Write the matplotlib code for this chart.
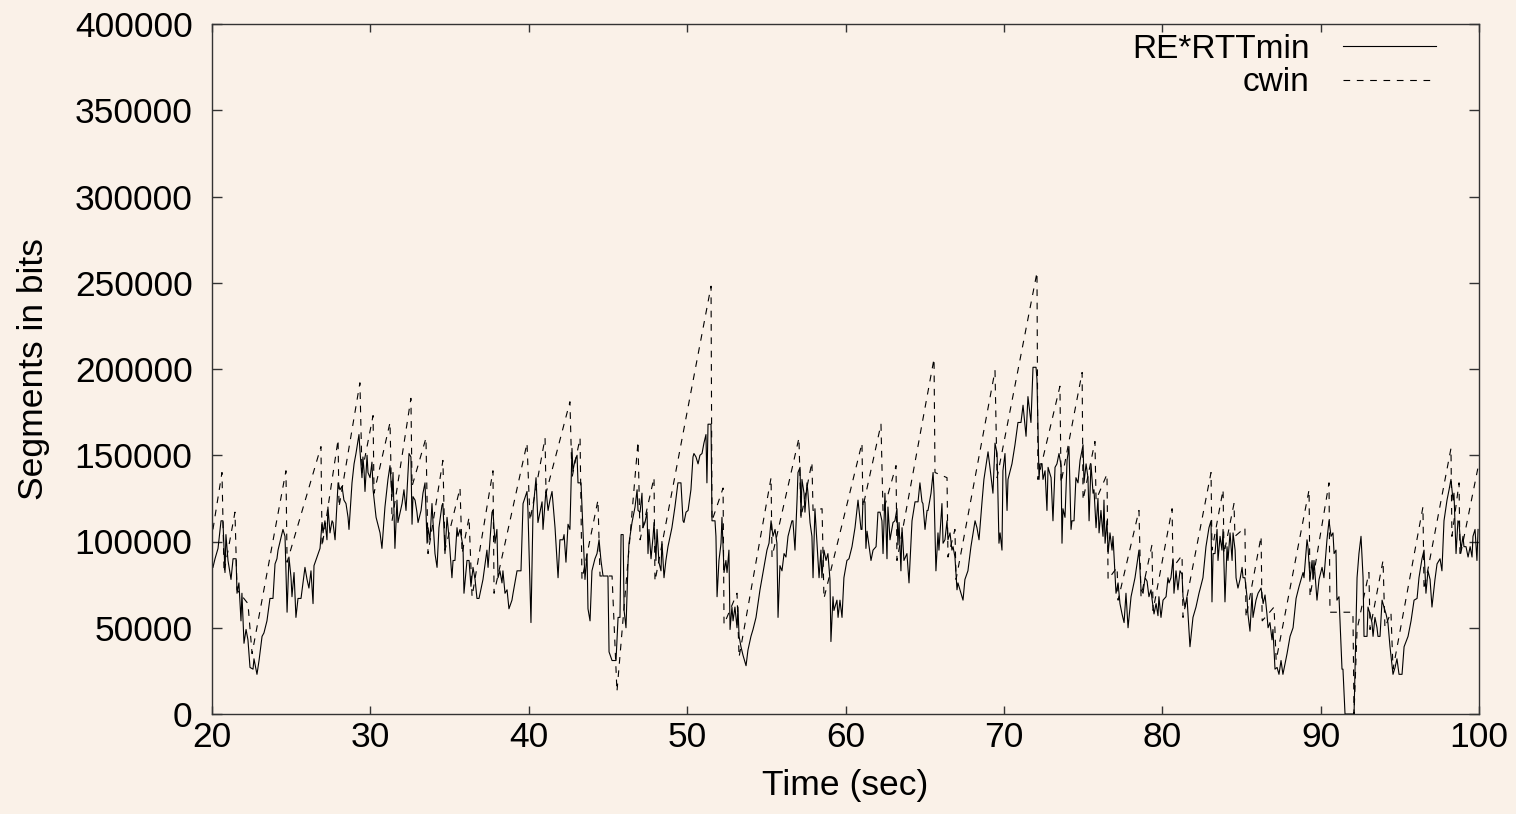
import numpy as np
import matplotlib
matplotlib.use("Agg")
import matplotlib.pyplot as plt

plt.rcParams['font.family'] = ['Liberation Sans', 'DejaVu Sans']

# RE*RTTmin (time in s, value in kbits)
re_t = [20.06,20.19,20.38,20.57,20.69,20.82,20.88,21.01,21.20,21.33,21.52,21.58,21.70,21.83,21.89,22.02,22.15,22.27,22.40,22.59,
        22.65,22.84,22.97,23.16,23.28,23.47,23.66,23.85,23.98,24.10,24.17,24.48,24.61,24.74,24.86,24.99,25.05,25.18,25.30,25.43,
        25.62,25.87,26.00,26.12,26.25,26.38,26.44,26.63,26.82,26.95,27.01,27.13,27.26,27.32,27.45,27.58,27.64,27.77,27.96,28.08,
        28.21,28.33,28.46,28.59,28.65,28.84,28.97,29.09,29.28,29.34,29.47,29.53,29.60,29.66,29.79,29.85,29.98,30.10,30.17,30.36,
        30.61,30.73,30.92,31.11,31.24,31.37,31.43,31.55,31.68,31.74,32.00,32.12,32.25,32.44,32.56,32.63,32.69,32.82,32.94,33.01,
        33.20,33.32,33.45,33.58,33.64,33.76,33.89,33.95,34.08,34.21,34.33,34.52,34.58,34.71,34.84,34.96,35.15,35.22,35.34,35.47,
        35.53,35.66,35.85,35.91,36.10,36.23,36.35,36.48,36.61,36.73,36.86,37.11,37.36,37.43,37.68,37.74,37.87,37.99,38.06,38.18,
        38.31,38.37,38.50,38.63,38.75,38.94,39.01,39.26,39.51,39.64,39.89,39.95,40.14,40.27,40.46,40.58,40.71,40.84,40.90,41.09,
        41.22,41.34,41.47,41.66,41.85,41.97,42.16,42.23,42.35,42.48,42.60,42.73,42.79,42.92,43.05,43.11,43.30,43.43,43.55,43.68,
        43.74,43.87,43.99,44.18,44.31,44.44,44.56,44.69,45.00,45.07,45.26,45.51,45.64,45.76,45.83,45.96,46.02,46.14,46.27,46.33,
        46.52,46.71,46.84,46.90,47.03,47.15,47.21,47.34,47.47,47.53,47.59,47.72,47.85,47.91,48.03,48.10,48.22,48.35,48.41,48.54,
        48.66,48.79,49.04,49.23,49.42,49.61,49.74,49.80,49.93,50.06,50.24,50.37,50.43,50.56,50.69,50.81,50.94,51.06,51.19,51.25,
        51.32,51.51,51.57,51.76,51.82,51.89,52.01,52.14,52.20,52.33,52.45,52.52,52.64,52.71,52.83,52.90,53.02,53.15,53.21,53.28,
        53.40,53.53,53.72,53.84,54.03,54.16,54.35,54.60,54.79,55.04,55.17,55.30,55.42,55.55,55.67,55.74,55.86,55.99,56.12,56.24,
        56.37,56.62,56.68,56.81,56.94,57.00,57.13,57.19,57.25,57.38,57.44,57.57,57.63,57.76,57.88,57.95,58.07,58.20,58.33,58.45,
        58.51,58.64,58.77,58.89,59.02,59.08,59.21,59.27,59.46,59.53,59.65,59.78,59.90,60.09,60.22,60.41,60.60,60.79,60.98,61.04,
        61.10,61.23,61.29,61.36,61.61,61.74,61.93,62.05,62.18,62.30,62.37,62.49,62.62,62.68,62.81,63.00,63.12,63.25,63.31,63.38,
        63.50,63.57,63.69,63.88,64.01,64.20,64.39,64.58,64.70,64.83,64.89,65.02,65.15,65.21,65.40,65.53,65.59,65.71,65.84,65.90,
        66.09,66.16,66.28,66.41,66.47,66.60,66.72,66.79,66.91,67.04,67.10,67.23,67.42,67.54,67.73,67.92,68.18,68.30,68.43,68.62,
        68.74,69.00,69.12,69.31,69.44,69.57,69.69,69.76,69.88,69.94,70.07,70.20,70.26,70.51,70.70,70.89,71.08,71.21,71.40,71.52,
        71.71,71.84,72.03,72.09,72.22,72.28,72.41,72.47,72.60,72.72,72.79,72.98,73.10,73.23,73.35,73.48,73.61,73.67,73.73,73.86,
        73.99,74.11,74.24,74.30,74.43,74.55,74.68,74.81,75.00,75.06,75.19,75.31,75.38,75.50,75.63,75.69,75.82,75.94,76.01,76.13,
        76.26,76.32,76.39,76.51,76.58,76.70,76.83,76.89,77.08,77.21,77.33,77.46,77.59,77.71,77.84,78.03,78.28,78.53,78.66,78.79,
        78.91,79.04,79.16,79.29,79.35,79.48,79.61,79.73,79.79,79.92,80.05,80.24,80.36,80.43,80.55,80.68,80.74,80.87,80.99,81.12,
        81.25,81.31,81.44,81.56,81.75,81.94,82.13,82.32,82.57,82.76,82.95,83.08,83.14,83.21,83.33,83.46,83.52,83.65,83.77,83.84,
        83.96,84.09,84.15,84.28,84.41,84.47,84.60,84.66,84.78,84.91,85.04,85.10,85.22,85.35,85.41,85.54,85.67,85.73,85.92,86.05,
        86.24,86.37,86.49,86.61,86.68,86.80,86.93,86.99,87.12,87.25,87.37,87.50,87.62,87.88,88.07,88.26,88.45,88.64,88.89,88.95,
        89.14,89.20,89.33,89.46,89.52,89.58,89.77,89.90,90.09,90.21,90.40,90.53,90.66,90.78,90.85,90.97,91.03,91.16,91.35,91.41,
        91.54,92.11,92.30,92.42,92.55,92.68,92.74,92.93,92.99,93.12,93.24,93.31,93.43,93.56,93.62,93.75,93.88,94.00,94.13,94.25,
        94.38,94.57,94.70,94.82,94.95,95.14,95.27,95.52,95.71,95.90,96.09,96.21,96.40,96.53,96.65,96.78,96.91,97.03,97.22,97.35,
        97.54,97.66,97.79,97.98,98.11,98.23,98.36,98.42,98.55,98.67,98.74,98.86,98.99,99.05,99.18,99.31,99.44,99.56,99.62,99.75,
        99.87,99.94]
re_k = [85,90,96,112,112,82,104,89,78,90,90,70,76,54,70,41,49,43,27,26,
        32,23,31,45,47,54,67,67,87,90,95,107,103,59,91,79,68,82,56,67,
        67,85,78,73,83,64,86,91,96,111,105,112,101,120,105,112,111,101,134,130,
        132,124,122,114,107,134,145,151,162,153,137,149,141,129,150,140,137,146,130,114,
        105,96,120,136,144,126,140,96,124,111,122,130,118,151,149,110,126,124,117,111,
        118,128,134,99,108,101,122,112,93,85,108,121,122,93,114,103,79,89,89,108,
        103,107,97,70,89,89,74,85,78,67,67,78,95,85,117,118,99,107,79,83,
        76,83,70,72,61,66,70,83,83,122,129,118,53,118,137,111,117,123,107,130,
        118,124,129,108,79,101,101,104,88,110,107,154,141,147,150,134,134,105,78,93,
        61,54,83,90,93,101,89,80,80,36,31,31,56,56,104,104,60,50,88,99,
        111,120,130,118,117,128,108,111,117,93,107,90,103,111,89,107,88,83,100,79,
        89,97,108,120,134,134,112,111,117,118,130,149,151,149,145,150,151,157,162,134,
        168,168,112,112,103,68,89,99,114,82,89,82,95,49,62,54,62,50,62,45,
        39,34,28,37,45,49,56,72,82,95,99,112,103,107,99,56,86,83,93,91,
        103,112,112,95,124,140,143,114,136,128,117,134,128,111,103,79,119,99,79,95,
        79,95,89,93,78,42,68,60,66,56,66,56,79,89,90,97,108,124,107,107,
        123,123,96,106,89,95,97,117,117,112,93,128,90,120,101,111,112,119,98,111,
        83,108,89,93,76,112,123,123,134,123,122,107,118,118,128,140,128,83,105,95,
        122,99,101,112,101,105,95,97,91,72,76,72,66,78,83,97,112,108,101,123,
        136,152,143,128,157,151,99,105,95,141,151,118,136,145,156,169,169,179,161,184,
        169,201,201,194,136,145,145,136,141,118,143,137,112,143,145,151,144,99,119,114,
        147,155,107,112,112,137,134,147,156,134,145,137,112,145,128,130,108,125,105,118,
        103,124,99,112,93,105,95,103,70,76,64,58,53,70,50,68,79,95,72,70,
        79,77,68,72,67,58,64,57,68,56,66,68,79,76,79,90,70,83,72,83,
        81,68,62,68,39,56,62,70,79,97,108,112,65,93,93,107,89,103,95,107,
        65,97,89,105,89,105,95,79,73,78,85,79,79,68,58,48,70,56,66,70,
        73,64,69,58,50,53,43,49,26,27,23,31,23,35,45,50,67,74,82,79,
        101,97,78,89,78,89,66,78,85,79,101,112,103,105,93,95,66,68,26,26,
        0,0,79,93,103,79,45,45,62,58,53,45,56,50,45,45,66,62,58,53,
        39,23,27,32,23,23,39,45,54,66,67,79,90,95,70,83,78,62,78,87,
        90,83,112,124,130,136,124,128,93,112,111,95,103,97,97,91,97,91,103,107,
        89,107]

# cwin (time in s, value in kbits)
cw_t = [20.06,20.63,20.76,21.45,21.58,22.27,22.53,24.67,24.74,26.88,26.95,27.96,28.02,29.34,29.47,30.17,30.23,31.24,31.37,32.56,
        32.63,33.51,33.64,34.58,34.71,35.66,35.79,36.23,36.42,37.74,37.81,39.89,40.08,41.03,41.09,42.60,42.73,43.24,43.36,44.37,
        44.50,45.26,45.57,46.90,47.03,47.91,47.97,51.51,51.57,52.27,52.33,53.15,53.28,55.30,55.36,57.06,57.19,57.88,57.95,58.52,
        58.64,61.04,61.10,62.24,62.37,63.19,63.25,65.59,65.65,66.41,66.47,66.91,66.98,69.44,69.57,72.09,72.15,73.54,73.61,74.94,
        75.00,75.75,75.82,76.51,76.58,77.15,77.21,78.53,78.66,79.35,79.42,80.62,80.68,81.25,81.31,83.08,83.14,83.84,83.90,84.53,
        84.59,85.22,85.29,86.24,86.31,87.06,87.19,89.27,89.33,90.53,90.59,92.04,92.11,92.30,93.05,93.12,93.94,94.06,94.44,94.57,
        96.46,96.53,98.23,98.29,98.74,98.80,99.94]
cw_k = [107,140,82,117,72,64,35,141,88,155,97,159,120,192,140,173,128,169,112,183,
        132,160,93,147,95,131,93,114,68,141,70,157,112,160,128,181,137,160,78,124,
        80,80,13,158,101,137,77,248,112,131,52,70,33,137,91,160,114,146,118,119,
        67,157,120,168,117,144,89,206,140,137,91,107,78,199,137,256,136,190,134,198,
        124,158,124,139,78,85,66,118,68,98,60,119,85,92,56,140,95,130,93,122,
        103,108,56,103,54,62,31,130,68,134,59,59,0,49,82,49,89,50,59,26,
        120,72,154,103,134,91,143]

labels = ["RE*RTTmin", "cwin"]
x_ticks = [20, 30, 40, 50, 60, 70, 80, 90, 100]
y_ticks = [0, 50000, 100000, 150000, 200000, 250000, 300000, 350000, 400000]

bg = '#faf1e8'
fig = plt.figure(figsize=(15.16, 8.14), dpi=100, facecolor=bg)
ax = fig.add_axes([212/1516, 1 - 714/814, (1479-212)/1516, (714-24)/814])
ax.set_facecolor(bg)

ax.plot(re_t, np.array(re_k) * 1000, color='black', lw=0.8, label=labels[0])
ax.plot(cw_t, np.array(cw_k) * 1000, color='black', lw=0.8, dashes=(6, 6), label=labels[1])

ax.set_xlim(20, 100)
ax.set_ylim(0, 400000)
ax.set_xticks(x_ticks)
ax.set_yticks(y_ticks)
ax.set_xticklabels([str(v) for v in x_ticks])
ax.set_yticklabels([str(v) for v in y_ticks])

for s in ax.spines.values():
    s.set_color('#333333')
    s.set_linewidth(1.0)

ax.tick_params(axis='both', direction='in', top=True, right=True, labelsize=25.5,
               color='#333333', width=1.0)
ax.tick_params(axis='x', length=5.5, pad=5)
ax.tick_params(axis='y', length=7.5, pad=14)

ax.set_xlabel("Time (sec)", fontsize=25.5)
ax.set_ylabel("Segments in bits", fontsize=25.5)
ax.xaxis.set_label_coords(0.5, -0.079)
ax.yaxis.set_label_coords(-0.128, 0.5)

leg = ax.legend(loc='upper right', bbox_to_anchor=(0.9716, 0.9955),
                markerfirst=False, frameon=False, fontsize=24,
                handlelength=2.8, handletextpad=1.0, labelspacing=0.08,
                borderaxespad=0.0, borderpad=0.2)

fig.savefig("out.png", dpi=100, facecolor=bg)
